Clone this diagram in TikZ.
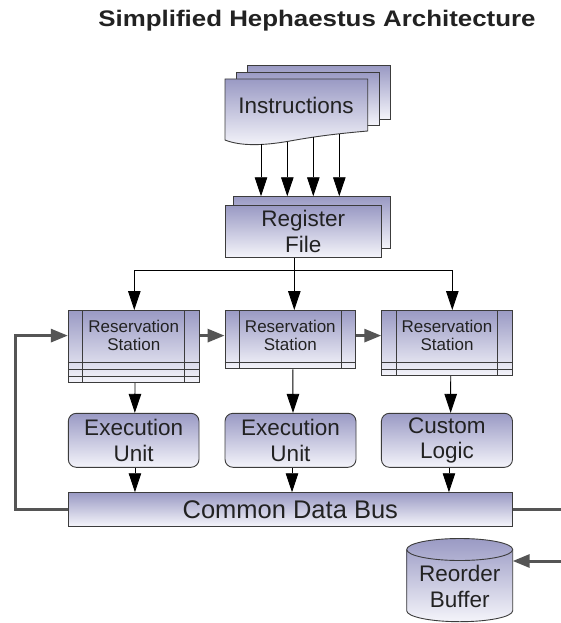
\documentclass[tikz,border=0pt]{standalone}
\usepackage{graphicx}
\usepackage{fontspec}
\setmainfont{Liberation Sans}
\usetikzlibrary{arrows.meta}

\definecolor{lav}{HTML}{9A9AC4}
\definecolor{lavlight}{HTML}{F4F4FA}
\definecolor{edgegray}{HTML}{3C3C3C}
\definecolor{busgray}{HTML}{555555}
\definecolor{inkgray}{HTML}{222222}

\tikzset{
  box/.style={draw=edgegray, line width=0.9pt, top color=lav, bottom color=lavlight, inner sep=0pt},
  big/.style={font=\fontsize{22.5}{25.5}\selectfont, text=inkgray, align=center, inner sep=0pt},
  small/.style={font=\fontsize{17}{17.5}\selectfont, text=inkgray, align=center, inner sep=0pt},
  thinline/.style={draw=black, line width=0.9pt},
  blkarrow/.style={draw=black, line width=0.9pt, -{Triangle[length=19pt,width=12.5pt]}},
  busline/.style={draw=busgray, line width=3pt},
  busarrow/.style={draw=busgray, line width=3pt, -{Triangle[length=17pt,width=13pt]}},
  rowline/.style={draw=edgegray, line width=0.9pt},
}

\begin{document}
\begin{tikzpicture}[x=1pt, y=-1pt]
\useasboundingbox[fill=white] (0,0) rectangle (560,623);

% title
\node[font=\bfseries\fontsize{22.5}{26}\selectfont, text=inkgray, anchor=base, inner sep=0pt]
  (title) at (317,27) {\scalebox{1.15}[1]{Simplified Hephaestus Architecture}};

% instruction stack: two sheets behind, one wavy sheet in front
\path[box] (247.7,65.7) rectangle (390.7,119);
\path[box] (236.7,72.3) rectangle (379,125.3);
\path[box] (225,79) -- (367.7,79) -- (367.7,131)
  .. controls (345,133) and (320,135.5) .. (290,141)
  .. controls (262,146) and (240,146) .. (225,140) -- cycle;
\node[big] (instr) at (296,105) {Instructions};
\coordinate (i1) at (261,144.3);
\coordinate (i2) at (287.3,141.5);
\coordinate (i3) at (313.3,137);
\coordinate (i4) at (339.3,134);

% register file (two stacked boxes)
\node[box, minimum width=157.4pt, minimum height=51.6pt] (rfback) at (312,222.5) {};
\node[box, big, minimum width=156.7pt, minimum height=51.6pt] (rf) at (303.35,231.5) {Register\\File};

\foreach \c in {i1,i2,i3,i4}
  \draw[blkarrow] (\c) -- (\c |- rfback.north);

% reservation stations
\node[box, anchor=north, minimum width=131pt, minimum height=72.2pt] (rs1) at (133.8,310) {};
\node[box, anchor=north, minimum width=130.7pt, minimum height=58.4pt] (rs2) at (290.35,310) {};
\node[box, anchor=north, minimum width=130.6pt, minimum height=65.3pt] (rs3) at (447,310) {};
\foreach \r in {rs1,rs2,rs3} {
  \draw[rowline] ([xshift=15pt]\r.north west) -- ([xshift=15pt]\r.south west);
  \draw[rowline] ([xshift=-15pt]\r.north east) -- ([xshift=-15pt]\r.south east);
}
\foreach \k in {1,2,3}
  \draw[rowline] ([yshift=\k*6.9pt]rs1.south west) -- ([yshift=\k*6.9pt]rs1.south east);
\draw[rowline] ([yshift=6.9pt]rs2.south west) -- ([yshift=6.9pt]rs2.south east);
\foreach \k in {1,2}
  \draw[rowline] ([yshift=\k*6.9pt]rs3.south west) -- ([yshift=\k*6.9pt]rs3.south east);
\node[small] (rs1lbl) at (133.8,335.6) {Reservation\\Station};
\node[small] (rs2lbl) at (290.35,335.6) {Reservation\\Station};
\node[small] (rs3lbl) at (447,335.6) {Reservation\\Station};

% register file fans out to the stations
\coordinate (split) at (294.3,270.7);
\draw[thinline] ([xshift=-9.05pt]rf.south) -- (split);
\draw[blkarrow] (split) -| ([xshift=0.5pt]rs1.north);
\draw[blkarrow] (split) -- ([xshift=3.95pt]rs2.north);
\draw[blkarrow] (split) -| ([xshift=5.3pt]rs3.north);

% functional units
\node[box, big, rounded corners=8pt, minimum width=130.7pt, minimum height=54pt] (eu1) at (133.65,440.3) {Execution\\Unit};
\node[box, big, rounded corners=8pt, minimum width=131pt, minimum height=54pt] (eu2) at (290.5,440.3) {Execution\\Unit};
\node[box, big, rounded corners=8pt, minimum width=131.1pt, minimum height=54pt] (eu3) at (446.95,440.3) {Custom\\Logic};

\draw[blkarrow] ([xshift=1.2pt]rs1.south) -- ([xshift=1.2pt]eu1.north);
\draw[blkarrow] ([xshift=2.5pt]rs2.south) -- ([xshift=2.5pt]eu2.north);
\draw[blkarrow] ([xshift=3.7pt]rs3.south) -- ([xshift=3.7pt]eu3.north);

% common data bus
\node[box, font=\fontsize{25.5}{27}\selectfont, text=inkgray, minimum width=444pt, minimum height=33.3pt] (cdb) at (290.3,509.35) {Common Data Bus};

\draw[blkarrow] ([xshift=1.3pt]eu1.south) -- ([xshift=1.3pt]eu1.south |- cdb.north);
\draw[blkarrow] ([xshift=1.5pt]eu2.south) -- ([xshift=1.5pt]eu2.south |- cdb.north);
\draw[blkarrow] ([xshift=2pt]eu3.south) -- ([xshift=2pt]eu3.south |- cdb.north);

% reorder buffer cylinder
\path[box] (406.7,549.5) -- (406.7,610.7)
  arc[start angle=180, end angle=0, x radius=53, y radius=11]
  -- (512.7,549.5)
  arc[start angle=0, end angle=-180, x radius=53, y radius=11] -- cycle;
\draw[rowline] (406.7,549.5) arc[start angle=180, end angle=0, x radius=53, y radius=11];
\node[big] (rob) at (459.7,586.7) {Reorder\\Buffer};
\coordinate (robin) at (512.7,561);

% result bus loops
\coordinate (loopL) at (15,0);
\coordinate (edgeR) at (566,0);
\draw[busarrow] (cdb.west) -- (loopL |- cdb.west) -- (loopL |- rs1lbl) -- (rs1lbl -| rs1.west);
\draw[busarrow] (rs1lbl -| rs1.east) -- (rs2lbl -| rs2.west);
\draw[busarrow] (rs2lbl -| rs2.east) -- (rs3lbl -| rs3.west);
\draw[busline] (cdb.east) -- (edgeR |- cdb.east);
\draw[busarrow] (edgeR |- robin) -- (robin);
\end{tikzpicture}
\end{document}
